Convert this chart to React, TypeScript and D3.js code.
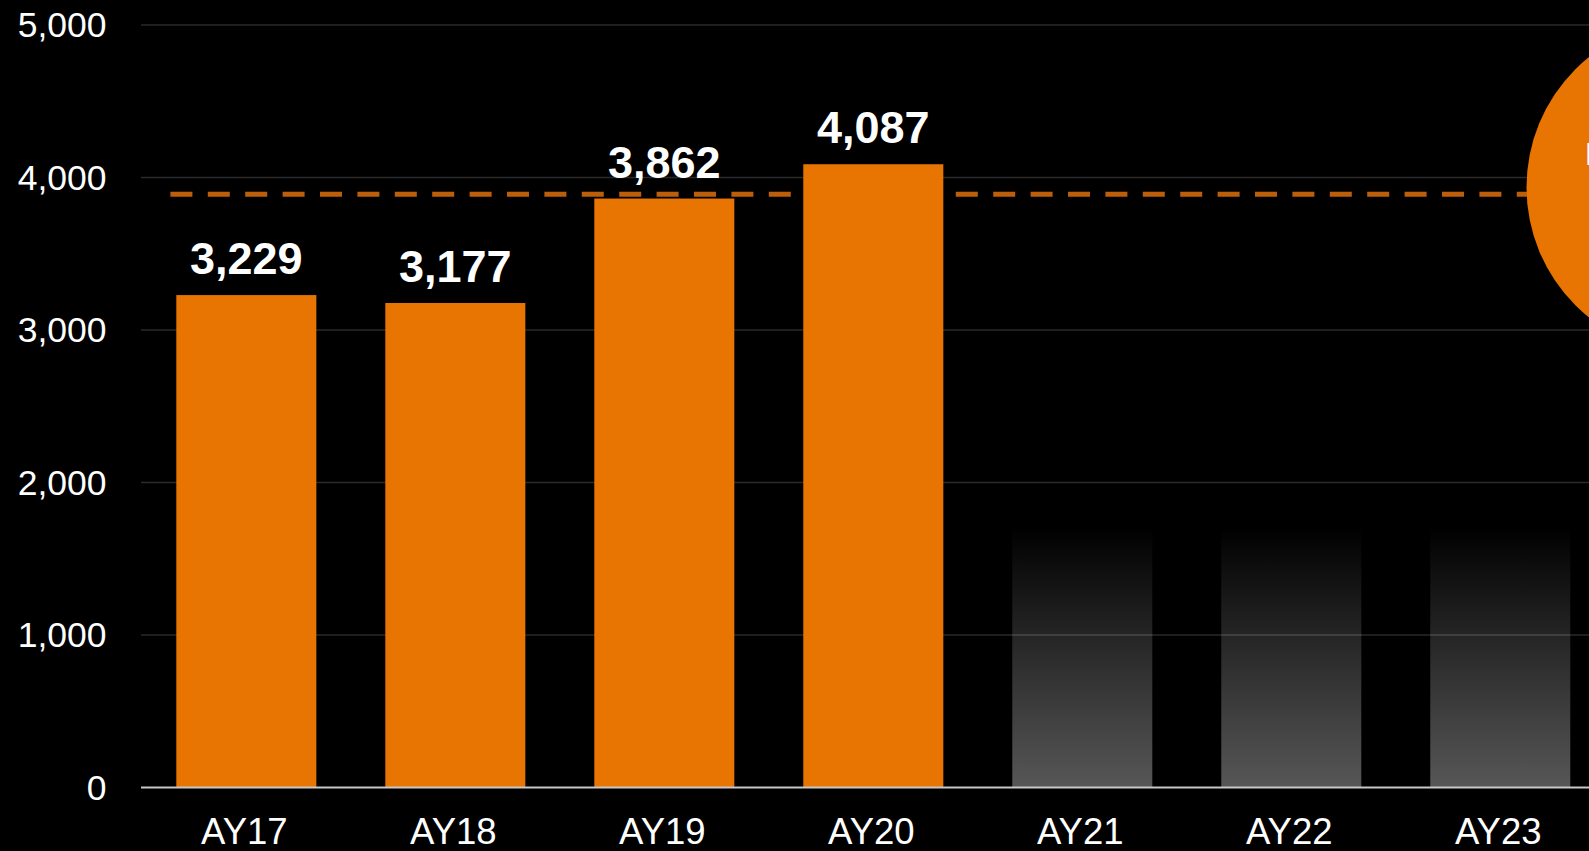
import React, { useEffect } from "react";
import * as d3 from "d3";

const categories = ["AY17", "AY18", "AY19", "AY20", "AY21", "AY22", "AY23"];
const actualValues = [3229, 3177, 3862, 4087];
const placeholderValues = [1710, 1710, 1710];
const referenceValue = 3890;
const yTicks = [0, 1000, 2000, 3000, 4000, 5000];
const circleLabel = "Projected";

const W = 1589;
const H = 851;
const ORANGE = "#E87502";

export default function App() {
  useEffect(() => {
    document.body.style.margin = "0";
    document.body.style.overflow = "hidden";
    document.body.style.background = "#000";
  }, []);

  const x = d3
    .scaleBand<string>()
    .domain(categories)
    .range([141, 1605.6])
    .paddingInner(0.33)
    .paddingOuter(0.169);
  const y = d3.scaleLinear().domain([0, 5000]).range([787.5, 25]);
  const fmt = d3.format(",");

  const actual = actualValues.map((v, i) => ({ cat: categories[i], v }));
  const ghosts = placeholderValues.map((v, i) => ({
    cat: categories[actualValues.length + i],
    v,
  }));

  const circleCx = 1693.5;
  const circleCy = y(referenceValue) - 7;
  const circleR = 167;

  return (
    <svg
      width={W}
      height={H}
      style={{ display: "block", background: "#000" }}
      fontFamily="'Liberation Sans', Arial, sans-serif"
    >
      <defs>
        <linearGradient id="ghost" x1="0" y1="1" x2="0" y2="0">
          <stop offset="0%" stopColor="#fff" stopOpacity={0.34} />
          <stop offset="60%" stopColor="#fff" stopOpacity={0.14} />
          <stop offset="100%" stopColor="#fff" stopOpacity={0.0} />
        </linearGradient>
      </defs>
      <rect x={0} y={0} width={W} height={H} fill="#000" />
      {/* gridlines */}
      {yTicks
        .filter((t) => t > 0)
        .map((t) => (
          <line
            key={t}
            x1={141}
            x2={W}
            y1={y(t)}
            y2={y(t)}
            stroke="#2a2a2a"
            strokeWidth={1.5}
          />
        ))}
      {/* y tick labels */}
      {yTicks.map((t) => (
        <text
          key={t}
          x={106.5}
          y={y(t) + 12}
          textAnchor="end"
          fontSize={35.5}
          fill="#fff"
        >
          {fmt(t)}
        </text>
      ))}
      {/* reference dashed line */}
      <line
        x1={170.4}
        x2={circleCx}
        y1={y(referenceValue)}
        y2={y(referenceValue)}
        stroke="#BC5E0A"
        strokeWidth={5}
        strokeDasharray="22 15.4"
      />
      {/* actual bars */}
      {actual.map((d) => (
        <rect
          key={d.cat}
          x={x(d.cat)}
          y={y(d.v)}
          width={x.bandwidth()}
          height={y(0) - y(d.v)}
          fill={ORANGE}
        />
      ))}
      {actual.map((d) => (
        <text
          key={"l" + d.cat}
          x={(x(d.cat) as number) + x.bandwidth() / 2}
          y={y(d.v) - 21}
          textAnchor="middle"
          fontSize={45}
          fontWeight="bold"
          fill="#fff"
        >
          {fmt(d.v)}
        </text>
      ))}
      {/* placeholder bars */}
      {ghosts.map((d) => (
        <rect
          key={d.cat}
          x={x(d.cat)}
          y={y(d.v)}
          width={x.bandwidth()}
          height={y(0) - y(d.v)}
          fill="url(#ghost)"
        />
      ))}
      {/* baseline */}
      <line
        x1={141}
        x2={W}
        y1={y(0)}
        y2={y(0)}
        stroke="#c8c8c8"
        strokeWidth={1.8}
      />
      {/* x labels */}
      {categories.map((c) => (
        <text
          key={c}
          x={(x(c) as number) + x.bandwidth() / 2 - 2}
          y={843.5}
          textAnchor="middle"
          fontSize={36.5}
          fill="#fff"
        >
          {c}
        </text>
      ))}
      {/* callout circle */}
      <circle cx={circleCx} cy={circleCy} r={circleR} fill={ORANGE} />
      <text x={1585} y={165} fontSize={31} fill="#fff">
        {circleLabel}
      </text>
    </svg>
  );
}
